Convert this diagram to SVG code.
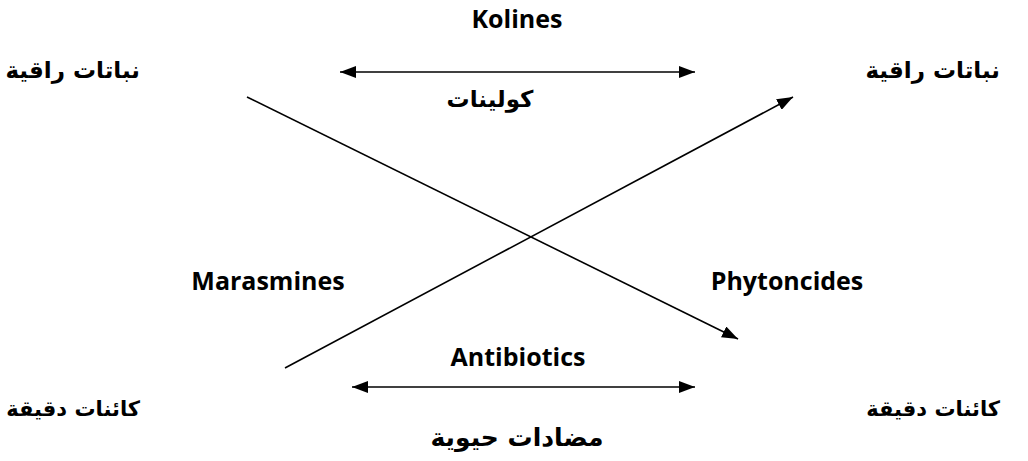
<svg xmlns="http://www.w3.org/2000/svg" width="1028" height="461" viewBox="0 0 1028 461">
<style>
.lat{font-family:"Open Sans","Liberation Sans",sans-serif;font-weight:bold;font-size:25px;fill:#000}
.ar{font-family:"DejaVu Sans","Noto Sans CJK SC",sans-serif;font-weight:bold;font-size:23px;fill:#000}
.ln{stroke:#000;stroke-width:1.6;fill:none}
</style>
<defs>
<marker id="ah" markerUnits="userSpaceOnUse" markerWidth="16" markerHeight="12" refX="16" refY="6" orient="auto-start-reverse" viewBox="0 0 16 12">
<path d="M0,0 L16,6 L0,12 z" fill="#000"/>
</marker>
</defs>
<rect width="1028" height="461" fill="#fff"/>
<g id="connectors">
<line class="ln" x1="340" y1="72" x2="695" y2="72" marker-start="url(#ah)" marker-end="url(#ah)"/>
<line class="ln" x1="352" y1="387" x2="695" y2="387" marker-start="url(#ah)" marker-end="url(#ah)"/>
<line class="ln" x1="247" y1="97" x2="738" y2="339" marker-end="url(#ah)"/>
<line class="ln" x1="285" y1="368" x2="793" y2="97" marker-end="url(#ah)"/>
</g>
<g id="node-plants-left"><text class="ar" x="140" y="78" text-anchor="end">نباتات راقية</text></g>
<g id="node-plants-right"><text class="ar" x="1000" y="78" text-anchor="end">نباتات راقية</text></g>
<g id="node-micro-left"><text class="ar" x="140" y="416" text-anchor="end" style="font-size:21px">كائنات دقيقة</text></g>
<g id="node-micro-right"><text class="ar" x="1000" y="416" text-anchor="end" style="font-size:21px">كائنات دقيقة</text></g>
<g id="labels">
<text class="lat" x="517" y="28" text-anchor="middle">Kolines</text>
<text class="ar" x="490" y="107" text-anchor="middle">كولينات</text>
<text class="lat" x="268" y="290" text-anchor="middle">Marasmines</text>
<text class="lat" x="787" y="290" text-anchor="middle">Phytoncides</text>
<text class="lat" x="518" y="366" text-anchor="middle">Antibiotics</text>
<text class="ar" x="517" y="446" text-anchor="middle" style="font-size:25px">مضادات حيوية</text>
</g>
</svg>
